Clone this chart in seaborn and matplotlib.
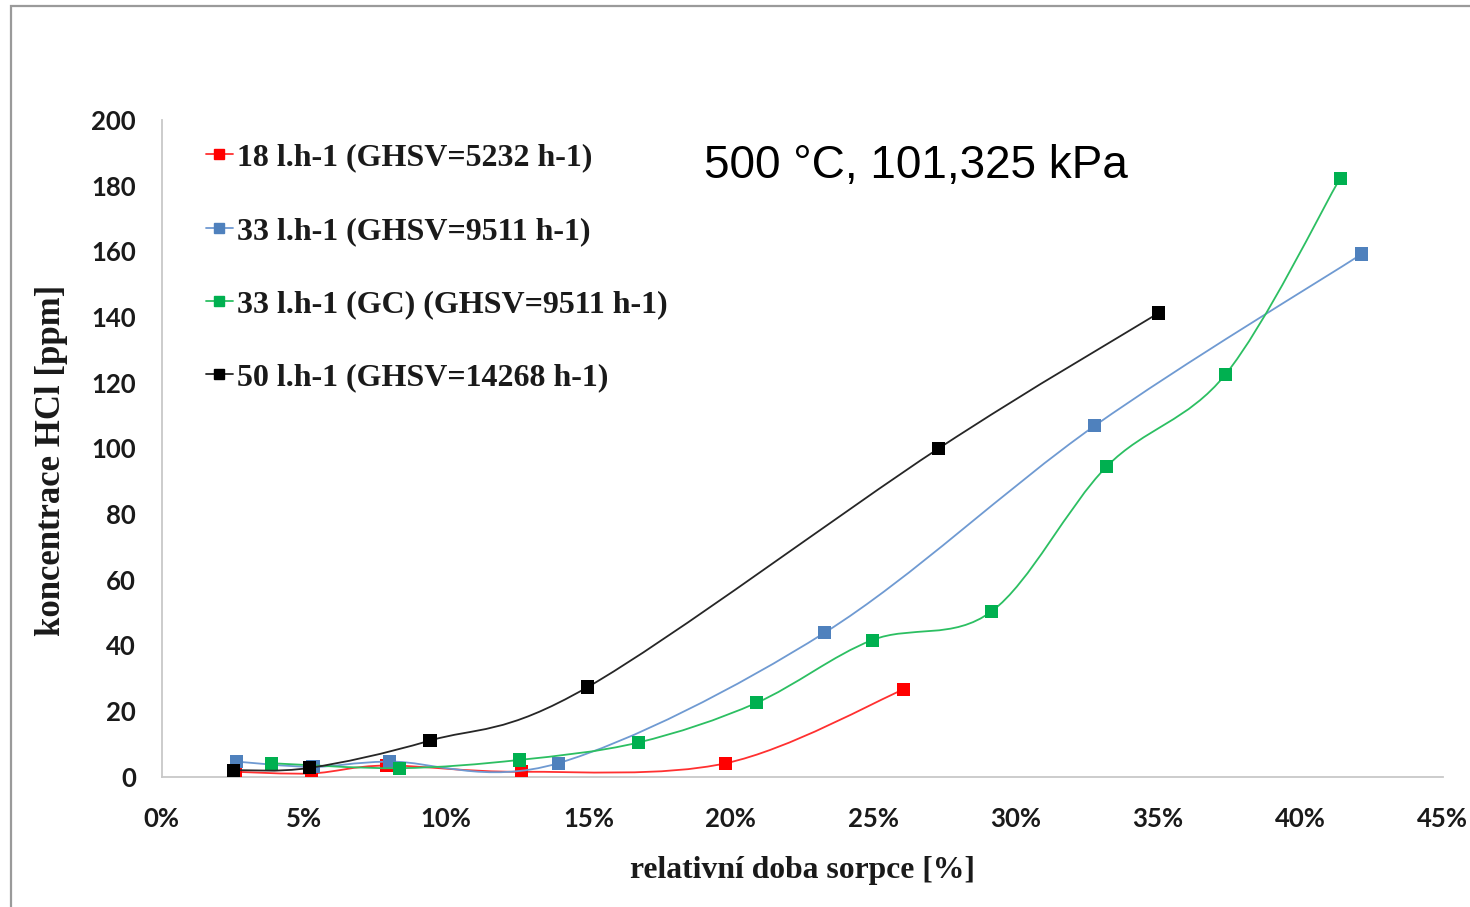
import numpy as np
import pandas as pd
import matplotlib
matplotlib.use("Agg")
import matplotlib.pyplot as plt
import seaborn as sns
from matplotlib.path import Path
from matplotlib.patches import PathPatch, Rectangle
from matplotlib.lines import Line2D
from matplotlib.ticker import PercentFormatter, MultipleLocator

# ---- data (x = relative sorption time [%], y = HCl concentration [ppm]) ----
labels = ["18 l.h-1 (GHSV=5232 h-1)",
          "33 l.h-1 (GHSV=9511 h-1)",
          "33 l.h-1 (GC) (GHSV=9511 h-1)",
          "50 l.h-1 (GHSV=14268 h-1)"]

red_x = [2.58, 5.27, 7.9, 12.65, 19.82, 26.07]
red_y = [1.5, 1.0, 3.4, 1.5, 4.1, 26.6]

blue_x = [2.64, 5.32, 8.02, 13.93, 23.3, 32.78, 42.16]
blue_y = [4.6, 3.0, 4.6, 4.1, 43.9, 106.9, 159.2]

green_x = [3.87, 8.37, 12.56, 16.74, 20.9, 24.96, 29.15, 33.19, 37.38, 41.4]
green_y = [4.1, 2.6, 5.1, 10.4, 22.5, 41.6, 50.3, 94.4, 122.6, 182.3]

black_x = [2.52, 5.21, 9.43, 14.97, 27.3, 35.02]
black_y = [2.0, 2.7, 11.0, 27.3, 100.0, 141.2]

marker_colors = ["#ff0000", "#4f81bd", "#00b050", "#000000"]
line_colors = ["#ff3030", "#6f9ad2", "#2cbf62", "#262626"]

annotation = "500 °C, 101,325 kPa"
xlabel = "relativní doba sorpce [%]"
ylabel = "koncentrace HCl [ppm]"

series = [(red_x, red_y), (blue_x, blue_y), (green_x, green_y), (black_x, black_y)]
frames = []
for lab, (xs, ys) in zip(labels, series):
    frames.append(pd.DataFrame({"x": xs, "y": ys, "serie": lab}))
df = pd.concat(frames, ignore_index=True)

sns.set_theme(style="white")
plt.rcParams["font.family"] = ["Lato", "DejaVu Sans"]

fig = plt.figure(figsize=(14.7, 9.07), dpi=100)
ax = fig.add_axes([161.5 / 1470, 1 - 776.7 / 907, (1442.7 - 161.5) / 1470, (776.7 - 120) / 907])


def smooth_path(xs, ys):
    """Excel-like smoothed line (Catmull-Rom as cubic Bezier) through the data points."""
    p = np.column_stack([xs, ys]).astype(float)
    n = len(p)
    verts = [p[0]]
    codes = [Path.MOVETO]
    for i in range(n - 1):
        p0 = p[i - 1] if i > 0 else p[i]
        p1 = p[i]
        p2 = p[i + 1]
        p3 = p[i + 2] if i + 2 < n else p[i + 1]
        c1 = p1 + (p2 - p0) / 6.0
        c2 = p2 - (p3 - p1) / 6.0
        verts += [c1, c2, p2]
        codes += [Path.CURVE4] * 3
    return Path(verts, codes)


for k, lab in enumerate(labels):
    sub = df[df["serie"] == lab]
    patch = PathPatch(smooth_path(sub["x"].values, sub["y"].values), facecolor="none",
                      edgecolor=line_colors[k], lw=1.3, zorder=2 + k * 2, transform=ax.transData)
    ax.add_patch(patch)
    sns.scatterplot(data=sub, x="x", y="y", ax=ax, marker="s", s=90, color=marker_colors[k],
                    edgecolor="none", linewidth=0, zorder=3 + k * 2, legend=False)

ax.set_xlim(0, 45)
ax.set_ylim(0, 200)
ax.xaxis.set_major_locator(MultipleLocator(5))
ax.yaxis.set_major_locator(MultipleLocator(20))
ax.xaxis.set_major_formatter(PercentFormatter(decimals=0))

for s in ["top", "right"]:
    ax.spines[s].set_visible(False)
for s in ["left", "bottom"]:
    ax.spines[s].set_color("#c8c8c8")
    ax.spines[s].set_linewidth(1.3)
ax.tick_params(axis="both", which="major", direction="out", color="#c8c8c8",
               width=1.3, length=7.5, labelsize=18.5, labelcolor="#1a1a1a")
ax.tick_params(axis="x", pad=14)
ax.tick_params(axis="y", pad=11)
for t in ax.get_xticklabels() + ax.get_yticklabels():
    t.set_fontweight("bold")
    t.set_family(["Lato", "DejaVu Sans"])

serif = ["Liberation Serif", "DejaVu Serif"]
ax.set_xlabel(xlabel, fontsize=22.8, fontweight="bold", family=serif, color="#1a1a1a", labelpad=18)
ax.set_ylabel(ylabel, fontsize=25, fontweight="bold", family=serif, color="#1a1a1a", labelpad=20)
ax.yaxis.set_label_coords(-0.073, 0.482)

handles = [Line2D([0], [0], color=line_colors[k], lw=1.3, marker="s", markersize=7,
                  markerfacecolor=marker_colors[k], markeredgecolor=marker_colors[k])
           for k in range(4)]
leg = ax.legend(handles, labels, loc="upper left", bbox_to_anchor=(0.025, 0.984),
                frameon=False, handlelength=0.82, handletextpad=0.15, labelspacing=1.37,
                borderaxespad=0, prop={"family": serif, "weight": "bold", "size": 23})
for t in leg.get_texts():
    t.set_color("#1a1a1a")

fig.text(704 / 1470, 1 - 166 / 907, annotation, fontsize=33,
         family=["Liberation Sans", "DejaVu Sans"], color="#000000", va="center", ha="left")

fig.add_artist(Rectangle((11 / 1470, -0.05), 1.2, 1 - 6 / 907 + 0.05, transform=fig.transFigure,
                         fill=False, edgecolor="#9a9a9a", lw=1.6))

fig.savefig("out.png", dpi=100, facecolor="white")
